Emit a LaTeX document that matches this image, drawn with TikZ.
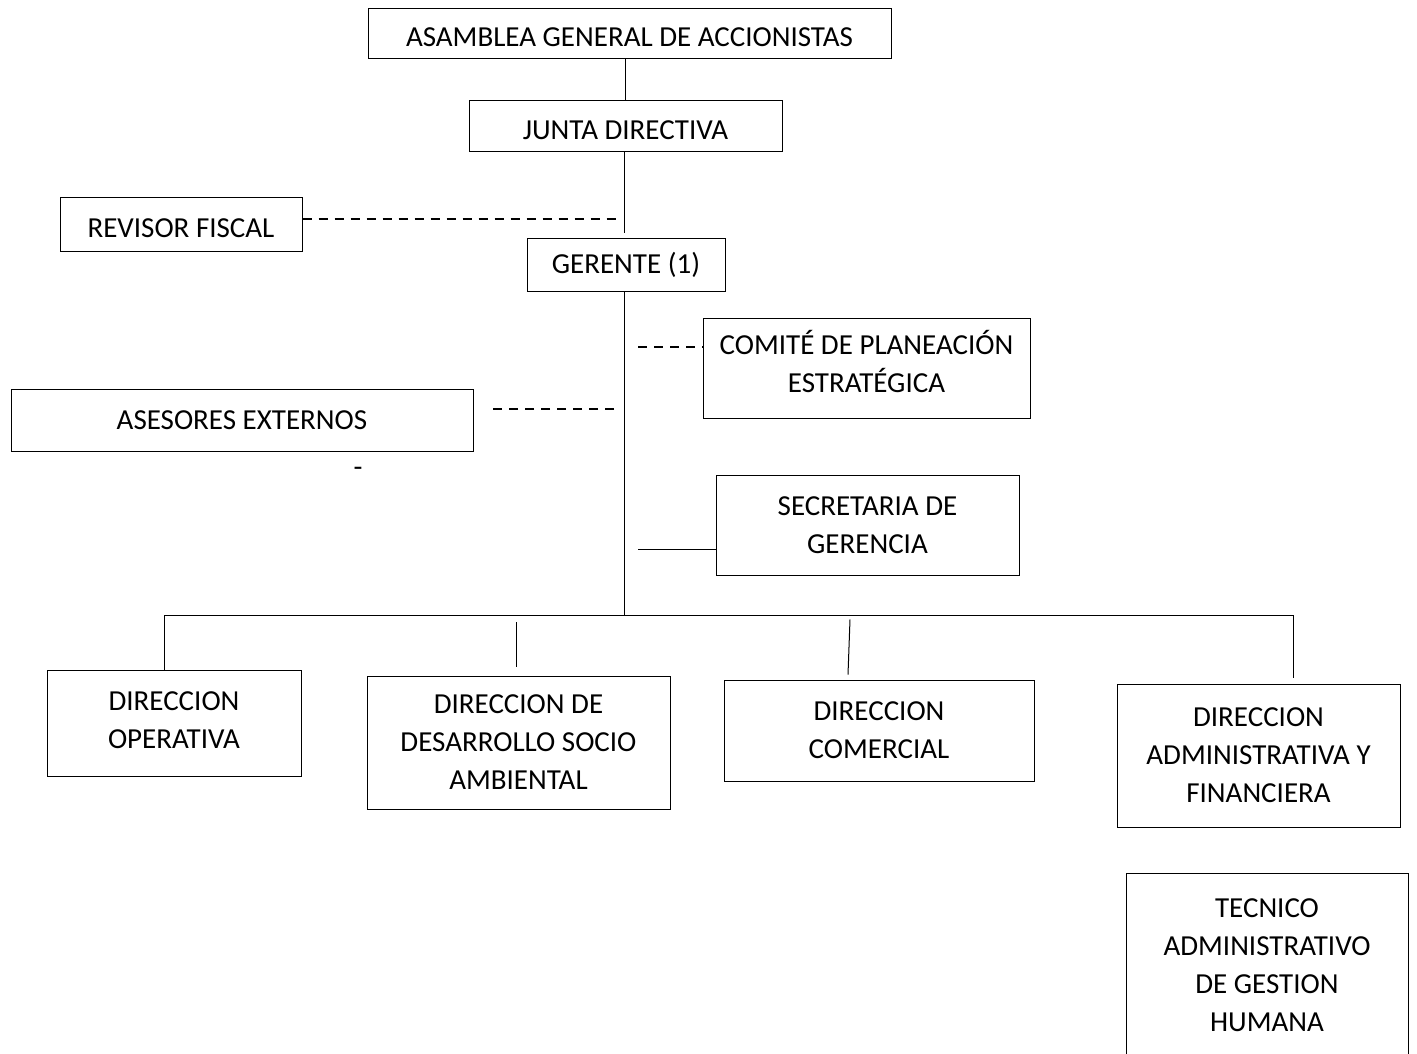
\documentclass[tikz,border=0pt]{standalone}
\usepackage{fontspec}
\setmainfont{Carlito}
\usetikzlibrary{positioning}

\begin{document}
\begin{tikzpicture}[x=1pt, y=-1pt,
    every node/.style={font=\fontsize{29}{38}\selectfont},
    caja/.style={draw, line width=1pt, align=center, inner sep=0pt},
    bajo/.style={text height=27pt},
    enlace/.style={line width=1pt},
    punteado/.style={line width=1.6pt, dash pattern=on 9pt off 7pt}]
    \clip (0,0) rectangle (1417,1053);

    % niveles superiores
    \node[caja, bajo, minimum width=523pt, minimum height=50pt] (asamblea) at (629.5,33) {ASAMBLEA GENERAL DE ACCIONISTAS};
    \node[caja, bajo, minimum width=313pt, minimum height=51pt] (junta) at (625.5,126) {JUNTA DIRECTIVA};
    \node[caja, bajo, minimum width=242pt, minimum height=54pt] (revisor) at (181,224) {REVISOR FISCAL};
    \node[caja, minimum width=198pt, minimum height=53pt] (gerente) at (626,264.5) {GERENTE (1)};

    % staff de la gerencia
    \node[caja, minimum width=327pt, minimum height=100pt] (comite) at (866.5,368) {};
    \node[align=center] (comitetexto) at ([yshift=7pt]comite.center) {COMITÉ DE PLANEACIÓN\\ESTRATÉGICA};
    \node[caja, minimum width=462pt, minimum height=62pt] (asesores) at (242,420.5) {ASESORES EXTERNOS};
    \node (guion) at (358,472) {-};
    \node[caja, minimum width=303pt, minimum height=100pt] (secretaria) at (867.5,525) {SECRETARIA DE\\GERENCIA};

    % direcciones
    \node[caja, minimum width=254pt, minimum height=106pt] (dirop) at (174,723) {};
    \node[align=center] (diroptexto) at ([yshift=3pt]dirop.center) {DIRECCION\\OPERATIVA};
    \node[caja, minimum width=303pt, minimum height=133pt] (dirdes) at (518.5,742.5) {DIRECCION DE\\DESARROLLO SOCIO\\AMBIENTAL};
    \node[caja, minimum width=310pt, minimum height=101pt] (dircom) at (879,730.5) {DIRECCION\\COMERCIAL};
    \node[caja, minimum width=283pt, minimum height=143pt] (diradm) at (1258.5,755.5) {DIRECCION\\ADMINISTRATIVA Y\\FINANCIERA};
    \node[caja, minimum width=282pt, minimum height=184pt] (tecnico) at (1267,965) {TECNICO\\ADMINISTRATIVO\\DE GESTION\\HUMANA};

    % puntos de apoyo
    \coordinate (nudo) at (624,233);
    \coordinate (rf) at (620,219);
    \coordinate (cp) at (638,347);
    \coordinate (ae) at (614,409);
    \coordinate (sg) at (638,549);
    \coordinate (tronco) at (624,615);
    \coordinate (busizq) at (164,615);
    \coordinate (busder) at (1293,615);

    % lineas
    \draw[enlace] (junta.north) -- (junta.north |- asamblea.south);
    \draw[enlace] (junta.south -| nudo) -- (nudo);
    \draw[punteado] (revisor.east |- rf) -- (rf);
    \draw[enlace] (gerente.south -| tronco) -- (tronco);
    \draw[punteado] (cp) -- (cp -| comite.west);
    \draw[punteado] (ae) -- ([xshift=14pt]asesores.east |- ae);
    \draw[enlace] (sg) -- (sg -| secretaria.west);
    \draw[enlace] (busizq) -- (busder);
    \draw[enlace] (busizq) -- (busizq |- dirop.north);
    \draw[enlace] (dirdes.north) ++(-2.5,-9) -- ++(0,-45);
    \draw[enlace] (dircom.north) ++(-31,-5) -- ++(2,-55);
    \draw[enlace] (busder) -- ++(0,63);
\end{tikzpicture}
\end{document}
